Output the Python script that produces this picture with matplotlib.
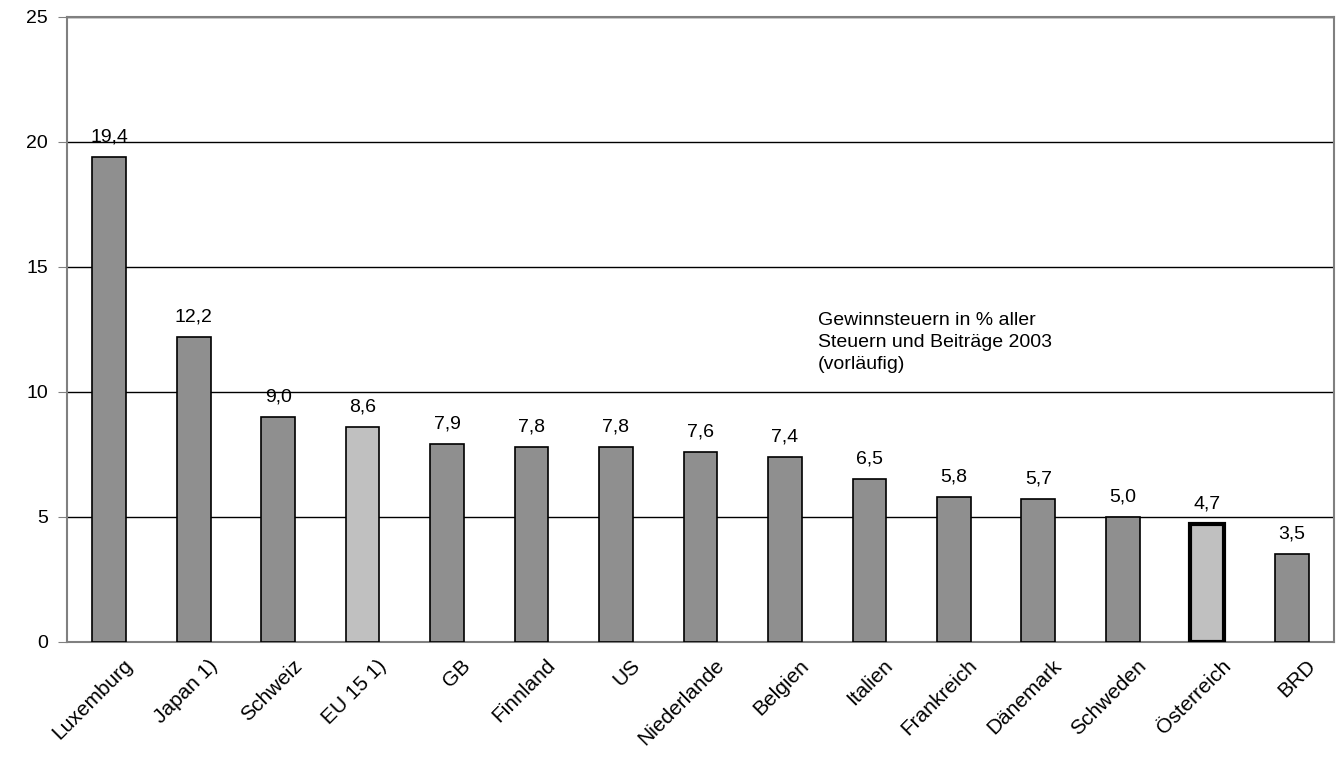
import numpy as np
import matplotlib.pyplot as plt
from matplotlib.transforms import ScaledTranslation

plt.rcParams['font.family'] = ['Liberation Sans', 'DejaVu Sans']

# profit taxes as share of all taxes and contributions, 2003
laender = ['Luxemburg', 'Japan 1)', 'Schweiz', 'EU 15 1)', 'GB', 'Finnland', 'US',
           'Niederlande', 'Belgien', 'Italien', 'Frankreich', 'Dänemark',
           'Schweden', 'Österreich', 'BRD']
anteil = [19.4, 12.2, 9.0, 8.6, 7.9, 7.8, 7.8, 7.6, 7.4, 6.5, 5.8, 5.7, 5.0, 4.7, 3.5]
hervorgehoben = ['EU 15 1)', 'Österreich']
y_ticks = [0, 5, 10, 15, 20, 25]

dunkel = '#8f8f8f'
hell = '#c0c0c0'

fig = plt.figure(figsize=(13.36, 7.62), dpi=100)
ax = fig.add_axes([0.0501, 0.1575, 0.9484, 0.8202])

x = np.arange(len(laender))
farben = [hell if l in hervorgehoben else dunkel for l in laender]
raender = [3 if l == 'Österreich' else 1.2 for l in laender]
bars = ax.bar(x, anteil, width=0.4, color=farben, edgecolor='black',
              linewidth=raender, zorder=3)

for b, v in zip(bars, anteil):
    ax.annotate(f'{v:.1f}'.replace('.', ','), (b.get_x() + b.get_width() / 2, v),
                xytext=(0, 8.5), textcoords='offset points', ha='center', va='bottom',
                fontsize=14)

ax.set_xlim(-0.5, len(laender) - 0.5)
ax.set_ylim(0, 25)
ax.set_yticks(y_ticks)
ax.yaxis.grid(True, color='black', linewidth=1, zorder=0)
ax.tick_params(axis='y', labelsize=14, length=6.5, color='#808080', pad=7)
ax.set_xticks(x)
ax.set_xticklabels(laender, rotation=45, ha='right', rotation_mode='anchor', fontsize=15)
ax.tick_params(axis='x', length=0, pad=10)
shift = ScaledTranslation(14 / 100, 0, fig.dpi_scale_trans)
for lbl in ax.get_xticklabels():
    lbl.set_transform(lbl.get_transform() + shift)
for s in ax.spines.values():
    s.set_color('#808080')
    s.set_linewidth(1.5)

ax.text(8.39, 13.2, 'Gewinnsteuern in % aller\nSteuern und Beiträge 2003\n(vorläufig)',
        fontsize=14, va='top', ha='left', linespacing=1.38)

fig.savefig('out.png', dpi=100)
